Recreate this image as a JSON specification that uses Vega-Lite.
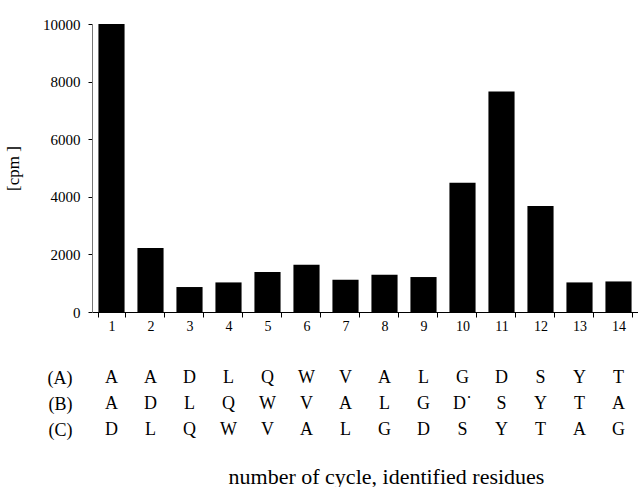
{
  "$schema": "https://vega.github.io/schema/vega-lite/v6.json",
  "background": "white",
  "padding": {"left": 4, "top": 17, "right": 0, "bottom": 0},
  "config": {
    "view": {"stroke": null},
    "font": "Liberation Serif",
    "axis": {"labelFont": "Liberation Serif", "titleFont": "Liberation Serif", "labelColor": "black", "titleColor": "black", "titleFontWeight": "normal", "grid": false}
  },
  "datasets": {
    "bars": [
      {"cycle": 1, "cpm": 10000},
      {"cycle": 2, "cpm": 2220},
      {"cycle": 3, "cpm": 867},
      {"cycle": 4, "cpm": 1027},
      {"cycle": 5, "cpm": 1387},
      {"cycle": 6, "cpm": 1640},
      {"cycle": 7, "cpm": 1120},
      {"cycle": 8, "cpm": 1294},
      {"cycle": 9, "cpm": 1214},
      {"cycle": 10, "cpm": 4485},
      {"cycle": 11, "cpm": 7652},
      {"cycle": 12, "cpm": 3677},
      {"cycle": 13, "cpm": 1027},
      {"cycle": 14, "cpm": 1061}
    ],
    "residues": [
      {"cycle": 1, "row": "A", "res": "A"}, {"cycle": 2, "row": "A", "res": "A"}, {"cycle": 3, "row": "A", "res": "D"}, {"cycle": 4, "row": "A", "res": "L"}, {"cycle": 5, "row": "A", "res": "Q"}, {"cycle": 6, "row": "A", "res": "W"}, {"cycle": 7, "row": "A", "res": "V"}, {"cycle": 8, "row": "A", "res": "A"}, {"cycle": 9, "row": "A", "res": "L"}, {"cycle": 10, "row": "A", "res": "G"}, {"cycle": 11, "row": "A", "res": "D"}, {"cycle": 12, "row": "A", "res": "S"}, {"cycle": 13, "row": "A", "res": "Y"}, {"cycle": 14, "row": "A", "res": "T"},
      {"cycle": 1, "row": "B", "res": "A"}, {"cycle": 2, "row": "B", "res": "D"}, {"cycle": 3, "row": "B", "res": "L"}, {"cycle": 4, "row": "B", "res": "Q"}, {"cycle": 5, "row": "B", "res": "W"}, {"cycle": 6, "row": "B", "res": "V"}, {"cycle": 7, "row": "B", "res": "A"}, {"cycle": 8, "row": "B", "res": "L"}, {"cycle": 9, "row": "B", "res": "G"}, {"cycle": 10, "row": "B", "res": "D˙"}, {"cycle": 11, "row": "B", "res": "S"}, {"cycle": 12, "row": "B", "res": "Y"}, {"cycle": 13, "row": "B", "res": "T"}, {"cycle": 14, "row": "B", "res": "A"},
      {"cycle": 1, "row": "C", "res": "D"}, {"cycle": 2, "row": "C", "res": "L"}, {"cycle": 3, "row": "C", "res": "Q"}, {"cycle": 4, "row": "C", "res": "W"}, {"cycle": 5, "row": "C", "res": "V"}, {"cycle": 6, "row": "C", "res": "A"}, {"cycle": 7, "row": "C", "res": "L"}, {"cycle": 8, "row": "C", "res": "G"}, {"cycle": 9, "row": "C", "res": "D"}, {"cycle": 10, "row": "C", "res": "S"}, {"cycle": 11, "row": "C", "res": "Y"}, {"cycle": 12, "row": "C", "res": "T"}, {"cycle": 13, "row": "C", "res": "A"}, {"cycle": 14, "row": "C", "res": "G"}
    ]
  },
  "spacing": 32,
  "vconcat": [
    {
      "width": 546,
      "height": 288,
      "data": {"name": "bars"},
      "mark": {"type": "bar", "color": "black"},
      "encoding": {
        "x": {
          "field": "cycle", "type": "ordinal",
          "scale": {"paddingInner": 0.33, "paddingOuter": 0.165},
          "axis": {"title": null, "labelAngle": 0, "labelFontSize": 14, "tickBand": "extent", "tickSize": 5, "tickColor": "black", "domainColor": "black", "labelPadding": 2}
        },
        "y": {
          "field": "cpm", "type": "quantitative",
          "scale": {"domain": [0, 10000], "nice": false},
          "axis": {"values": [0, 2000, 4000, 6000, 8000, 10000], "format": "d", "title": "[cpm ]", "titleFontSize": 17, "titlePadding": 20, "labelFontSize": 15, "tickSize": 4, "labelPadding": 8, "tickColor": "black", "domainColor": "#777"}
        }
      }
    },
    {
      "width": 546,
      "height": 78,
      "data": {"name": "residues"},
      "mark": {"type": "text", "fontSize": 18, "font": "Liberation Serif", "baseline": "middle", "color": "black"},
      "encoding": {
        "x": {
          "field": "cycle", "type": "ordinal",
          "scale": {"paddingInner": 0.33, "paddingOuter": 0.165},
          "axis": {"title": "number of cycle, identified residues", "titleFontSize": 22, "labels": false, "ticks": false, "domain": false, "titlePadding": 23, "titleX": 294}
        },
        "y": {
          "field": "row", "type": "nominal",
          "scale": {"paddingInner": 0, "paddingOuter": 0},
          "axis": {"title": null, "ticks": false, "domain": false, "labelFontSize": 18, "labelPadding": 20, "labelExpr": "'(' + datum.label + ')'"}
        },
        "text": {"field": "res"},
        "fontWeight": {"condition": {"test": "datum.res === 'S'", "value": "bold"}, "value": "normal"}
      }
    }
  ]
}
